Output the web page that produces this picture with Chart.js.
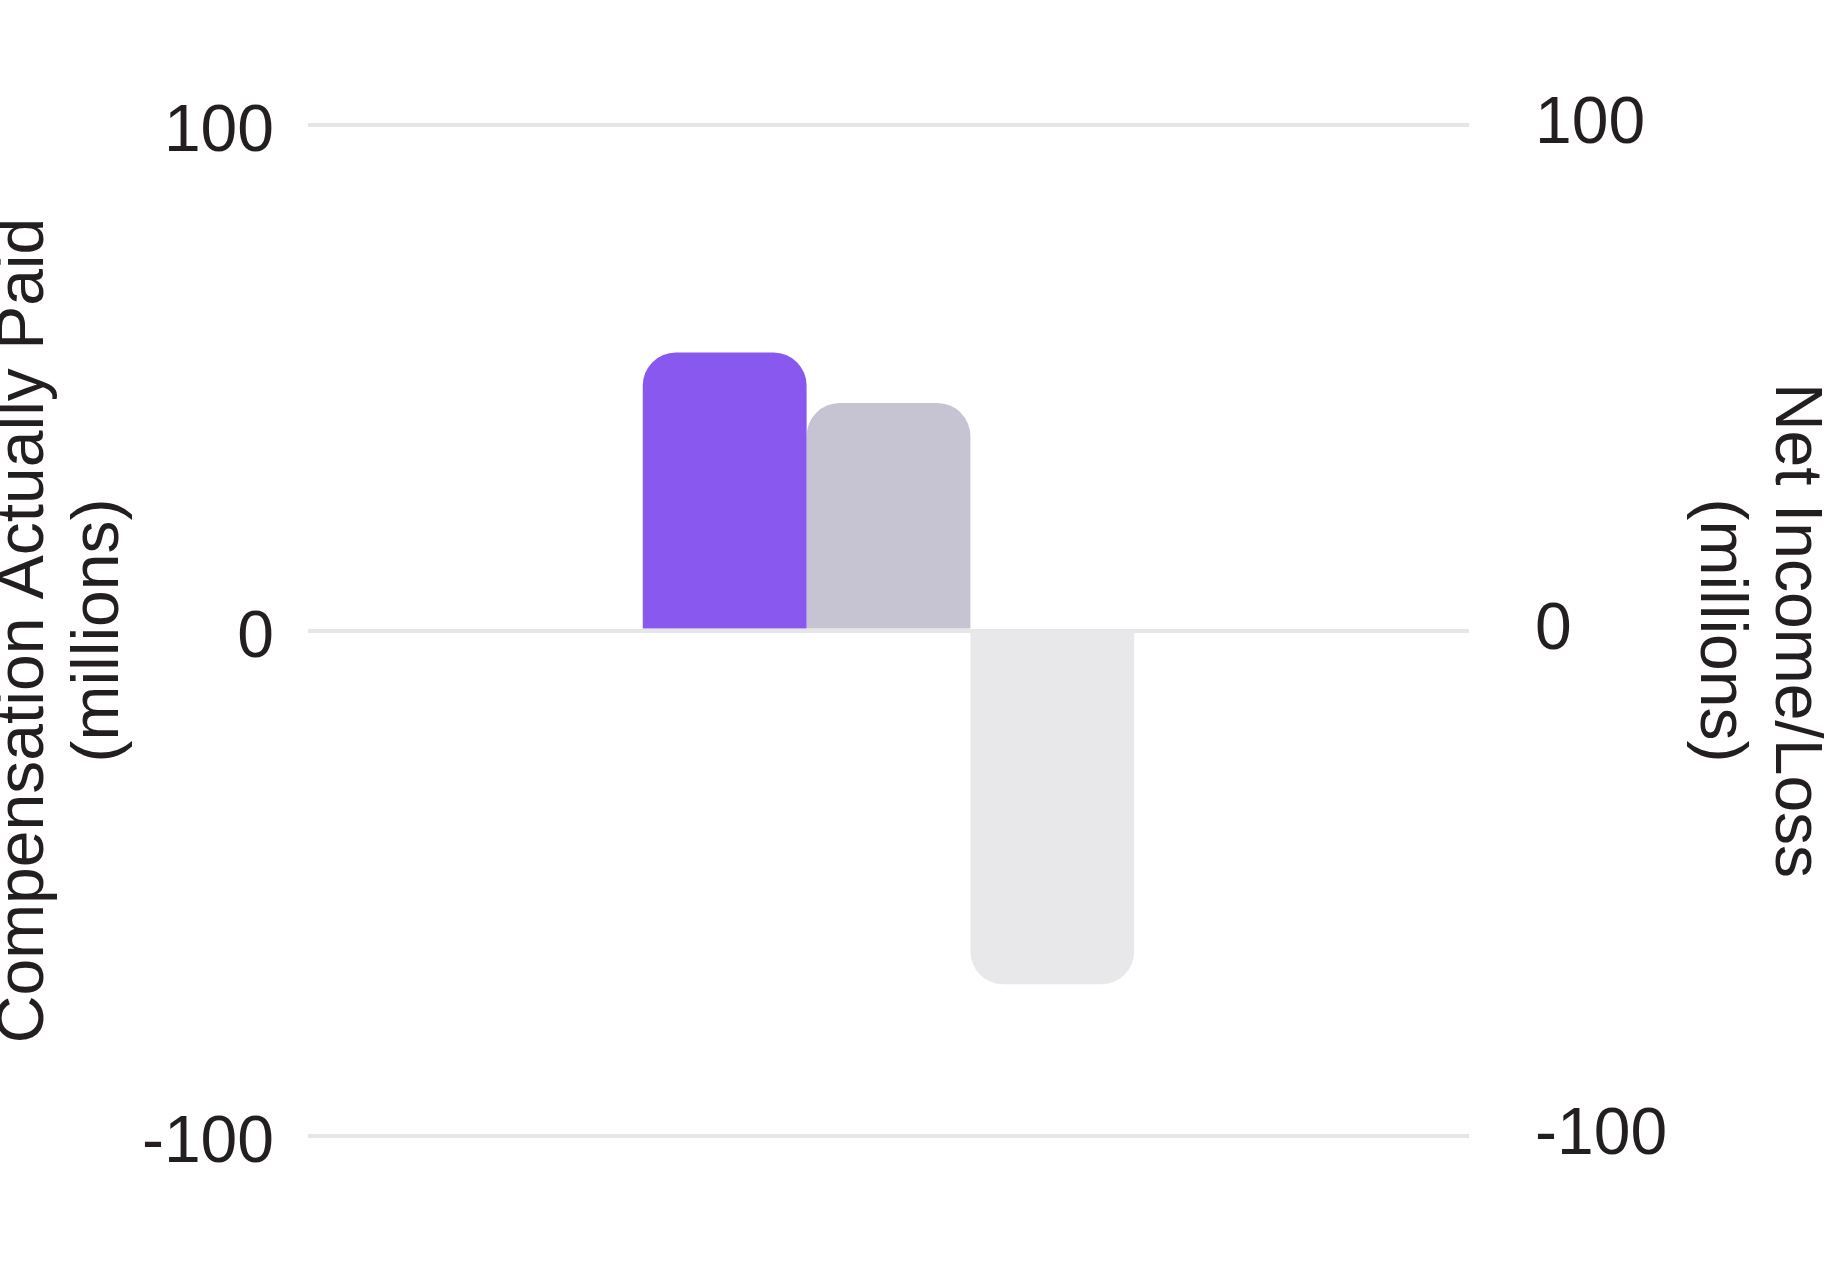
<!DOCTYPE html>
<html>
<head>
<meta charset="utf-8">
<script src="https://cdn.jsdelivr.net/npm/chart.js@4/dist/chart.umd.min.js"></script>
<style>
  html, body { margin: 0; padding: 0; background: #fff; }
  #wrap { width: 1843px; height: 1287px; position: relative; }
</style>
</head>
<body>
<div id="wrap"><canvas id="payChart"></canvas></div>
<script>
// data
const categories = [''];
const capPEO = [55];
const capNonPEO = [45];
const netIncome = [-70];
const yTicks = [-100, 0, 100];
const leftTitle = ['Compensation Actually Paid', '(millions)'];
const rightTitle = ['Net Income/Loss', '(millions)'];

const textColor = '#231f20';
const gridColor = '#e6e6e6';
const fontFamily = '"Liberation Sans", Arial, Helvetica, sans-serif';

const ctx = document.getElementById('payChart').getContext('2d');
new Chart(ctx, {
    type: 'bar',
    data: {
        labels: categories,
        datasets: [
            { label: 'Compensation Actually Paid - PEO', data: capPEO, backgroundColor: '#8958ee', yAxisID: 'y' },
            { label: 'Average Compensation Actually Paid - Non-PEO NEOs', data: capNonPEO, backgroundColor: '#c6c4d2', yAxisID: 'y' },
            { label: 'Net Income/Loss', data: netIncome, backgroundColor: '#e8e8ea', yAxisID: 'y1' }
        ]
    },
    options: {
        responsive: true,
        maintainAspectRatio: false,
        devicePixelRatio: 1,
        animation: false,
        layout: { padding: { top: 125, bottom: 151, left: 0, right: 0 } },
        datasets: {
            bar: { categoryPercentage: 0.4233, barPercentage: 1, borderRadius: 33, borderSkipped: 'start' }
        },
        plugins: {
            legend: { display: false },
            tooltip: { enabled: false }
        },
        scales: {
            x: { display: false },
            y: {
                position: 'left',
                min: -100,
                max: 100,
                afterBuildTicks: (scale) => { scale.ticks = yTicks.map(v => ({ value: v })); },
                afterFit: (scale) => { scale.width = 308; },
                border: { display: false },
                grid: { color: gridColor, lineWidth: 4, drawTicks: false },
                ticks: {
                    color: textColor,
                    padding: 34,
                    // left labels sit a few px below their grid line in the reference
                    callback: (v) => ['', String(v)],
                    font: { family: fontFamily, size: 66, lineHeight: 0.24 }
                },
                title: {
                    display: true,
                    text: leftTitle,
                    color: textColor,
                    padding: { top: -13, bottom: 0 },
                    font: { family: fontFamily, size: 66, lineHeight: 1.14 }
                }
            },
            y1: {
                position: 'right',
                min: -100,
                max: 100,
                afterBuildTicks: (scale) => { scale.ticks = yTicks.map(v => ({ value: v })); },
                afterFit: (scale) => { scale.width = 374; },
                border: { display: false },
                grid: { display: false, drawTicks: false },
                ticks: { color: textColor, padding: 66, font: { family: fontFamily, size: 66 } },
                title: {
                    display: true,
                    text: rightTitle,
                    color: textColor,
                    padding: { top: 11, bottom: 0 },
                    font: { family: fontFamily, size: 66, lineHeight: 1.14 }
                }
            }
        }
    }
});
</script>
</body>
</html>
